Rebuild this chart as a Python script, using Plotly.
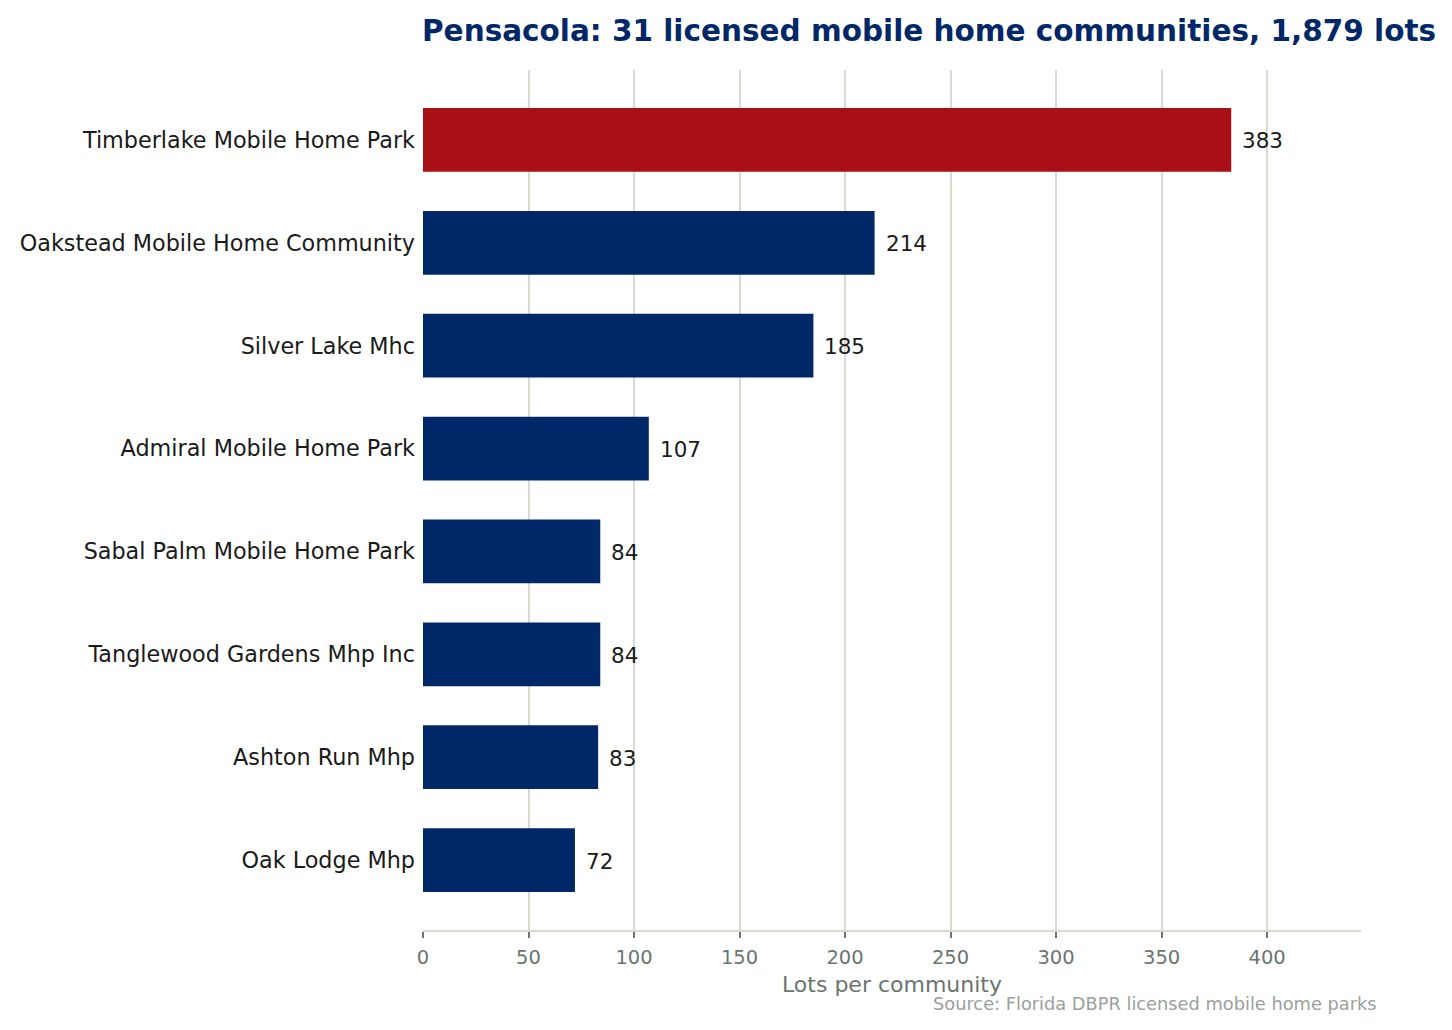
import plotly.graph_objects as go

communities = [
    "Timberlake Mobile Home Park",
    "Oakstead Mobile Home Community",
    "Silver Lake Mhc",
    "Admiral Mobile Home Park",
    "Sabal Palm Mobile Home Park",
    "Tanglewood Gardens Mhp Inc",
    "Ashton Run Mhp",
    "Oak Lodge Mhp",
]
lots = [383, 214, 185, 107, 84, 84, 83, 72]
x_ticks = [0, 50, 100, 150, 200, 250, 300, 350, 400]

RED = "#a81015"
NAVY = "#002868"
colors = [RED if i == 0 else NAVY for i in range(len(lots))]
FONT = "DejaVu Sans"

fig = go.Figure()
fig.add_trace(go.Bar(
    x=lots, y=communities, orientation="h",
    marker=dict(color=colors, line=dict(width=0)),
    width=0.62, hoverinfo="x+y",
))

for v, c in zip(lots, communities):
    fig.add_annotation(x=v, y=c, text=str(v), showarrow=False,
                       xanchor="left", yanchor="middle", xshift=9, yshift=-1,
                       font=dict(family=FONT, size=21.5, color="#1a1a1a"))

fig.add_annotation(xref="paper", yref="paper", x=0, y=1, yshift=39, xshift=-3,
                   text="<b>Pensacola: 31 licensed mobile home communities, 1,879 lots</b>",
                   showarrow=False, xanchor="left", yanchor="middle",
                   font=dict(family=FONT, size=29.5, color="#002868"))

fig.add_annotation(xref="paper", yref="paper", x=1.0195, y=0, yshift=-73,
                   text="Source: Florida DBPR licensed mobile home parks",
                   showarrow=False, xanchor="right", yanchor="middle",
                   font=dict(family=FONT, size=17.8, color="#9aa09c"))

fig.update_layout(
    width=1452, height=1030,
    margin=dict(l=412, r=99, t=62, b=108),
    paper_bgcolor="white", plot_bgcolor="white",
    showlegend=False,
    font=dict(family=FONT),
    xaxis=dict(
        range=[0, 444.5], tickvals=x_ticks, ticktext=[str(t) for t in x_ticks],
        showgrid=True, gridcolor="#dcd9d2", gridwidth=2,
        showline=True, linecolor="#dcd9d2", linewidth=2,
        ticks="outside", ticklen=6, tickwidth=1.5, tickcolor="#6b7471",
        ticklabelstandoff=3,
        tickfont=dict(family=FONT, size=19.5, color="#6b7471"),
        title=dict(text="Lots per community", standoff=8,
                   font=dict(family=FONT, size=22, color="#6b7471")),
        zeroline=False, fixedrange=True,
    ),
    yaxis=dict(
        categoryorder="array", categoryarray=communities,
        autorange=False, range=[7.68, -0.68],
        showgrid=False, showline=False, ticks="", zeroline=False,
        ticklabelstandoff=7,
        tickfont=dict(family=FONT, size=22.3, color="#1a1a1a"),
    ),
)

fig.write_html("out.html")
